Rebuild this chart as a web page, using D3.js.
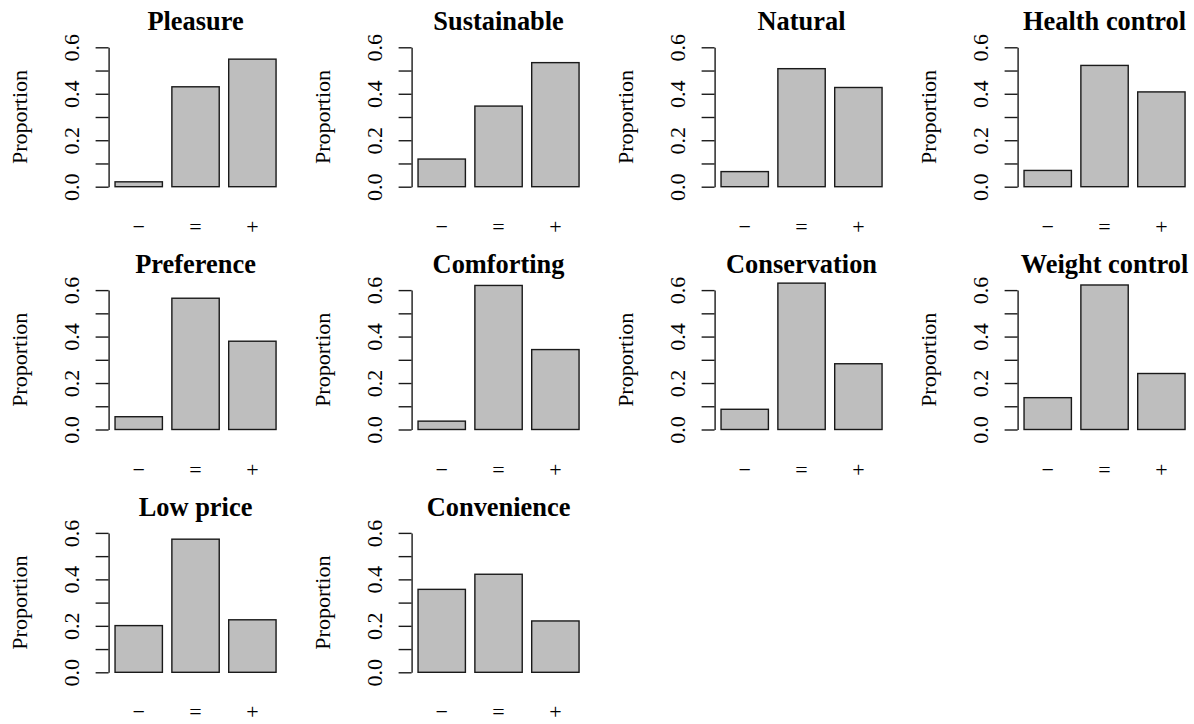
<!DOCTYPE html>
<html>
<head>
<meta charset="utf-8">
<script src="https://cdn.jsdelivr.net/npm/d3@7"></script>
<style>
  body { margin: 0; background: #fff; }
  svg text { font-family: "Liberation Serif", "Times New Roman", serif; fill: #000; }
</style>
</head>
<body>
<svg id="chart"></svg>
<script>
// one panel per motive, bars are proportions of -, =, +
const titles = ["Pleasure", "Sustainable", "Natural", "Health control",
  "Preference", "Comforting", "Conservation", "Weight control",
  "Low price", "Convenience"];
const categories = ["\u2212", "=", "+"];
const minusVals = [0.021, 0.119, 0.065, 0.070, 0.055, 0.036, 0.087, 0.137, 0.201, 0.357];
const equalVals = [0.430, 0.347, 0.508, 0.522, 0.565, 0.620, 0.630, 0.622, 0.573, 0.422];
const plusVals  = [0.549, 0.534, 0.427, 0.408, 0.380, 0.344, 0.283, 0.241, 0.226, 0.221];
const yTicks = [0, 0.1, 0.2, 0.3, 0.4, 0.5, 0.6];
const yTickLabels = ["0.0", "", "0.2", "", "0.4", "", "0.6"];

const width = 1194, height = 724;
const svg = d3.select("#chart").attr("width", width).attr("height", height);

const ncol = 4;
const colStep = 303, rowStep = 242.8;
const left0 = 108.6, zero0 = 186.7;
const plotW = 173.9;

// x in R barplot units (usr extended 4%)
const xu = d3.scaleLinear().domain([0.064, 3.736]).range([0, plotW]);
const x = d3.scaleBand()
  .domain(categories)
  .range([xu(0.2), xu(3.6)])
  .paddingInner(1 / 6)
  .paddingOuter(0);

titles.forEach((title, i) => {
  const col = i % ncol, row = Math.floor(i / ncol);
  const zeroY = zero0 + row * rowStep;
  const y = d3.scaleLinear().domain([0, 0.6]).range([zeroY, zeroY - 139.4]);
  const g = svg.append("g").attr("transform", `translate(${left0 + col * colStep},0)`);
  const vals = [minusVals[i], equalVals[i], plusVals[i]];

  g.selectAll("rect")
    .data(vals)
    .enter()
    .append("rect")
    .attr("x", (d, k) => x(categories[k]))
    .attr("y", (d) => y(d))
    .attr("width", x.bandwidth())
    .attr("height", (d) => y(0) - y(d))
    .attr("fill", "#bebebe")
    .attr("stroke", "#1a1a1a")
    .attr("stroke-width", 1.4);

  const yAxis = d3.axisLeft(y)
    .tickValues(yTicks)
    .tickSize(13)
    .tickSizeOuter(0)
    .tickFormat((d, k) => yTickLabels[k]);
  const ax = g.append("g").call(yAxis);
  ax.select(".domain").attr("stroke", "#1a1a1a").attr("stroke-width", 1.4);
  ax.selectAll(".tick line").attr("stroke", "#1a1a1a").attr("stroke-width", 1.4);
  ax.selectAll(".tick text")
    .attr("x", null)
    .attr("dy", null)
    .attr("transform", "translate(-30,0) rotate(-90)")
    .attr("text-anchor", "middle")
    .attr("font-size", 22)
    .attr("font-family", null)
    .attr("fill", "#000");

  g.append("text")
    .attr("transform", `translate(-82,${y(0.3)}) rotate(-90)`)
    .attr("text-anchor", "middle")
    .attr("font-size", 22)
    .text("Proportion");

  g.append("text")
    .attr("x", plotW / 2)
    .attr("y", zeroY - 156.7)
    .attr("text-anchor", "middle")
    .attr("font-size", 26.4)
    .attr("font-weight", "bold")
    .text(title);

  g.selectAll(".xlab")
    .data(categories)
    .enter()
    .append("text")
    .attr("class", "xlab")
    .attr("x", (d) => x(d) + x.bandwidth() / 2)
    .attr("y", zeroY + 47)
    .attr("text-anchor", "middle")
    .attr("font-size", 22)
    .text((d) => d);
});
</script>
</body>
</html>
